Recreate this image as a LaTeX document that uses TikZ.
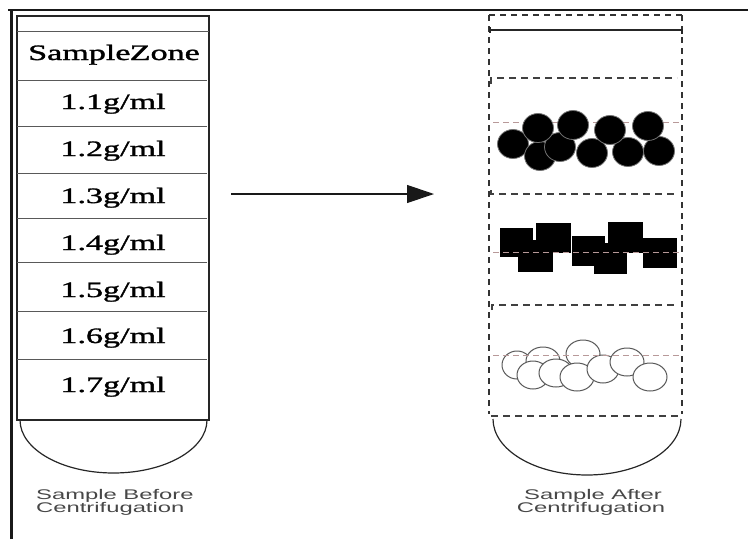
\documentclass[tikz,border=0pt]{standalone}
\usepackage{fontspec}
\usetikzlibrary{arrows.meta}
\newfontfamily\zonefont[FakeBold=1.2]{Liberation Serif}
\newfontfamily\capfont[FakeStretch=1.7]{Liberation Sans}
% zone labels are set wide, with tight letter spacing
\newcommand\zonetext[1]{\scalebox{1.55}[1]{#1}}

\begin{document}
\begin{tikzpicture}[x=1pt,y=-1pt,
  zone/.style={font=\zonefont\fontsize{22}{24}\selectfont, text=black, anchor=base, inner sep=0pt},
  caption/.style={font=\capfont\fontsize{14}{16}\selectfont, text=black!72, anchor=base, inner sep=0pt},
  frameline/.style={draw=black!90, line width=2.5pt},
  tube/.style={draw=black!85, line width=1.4pt},
  divider/.style={draw=black!65, line width=1pt},
  dashside/.style={draw=black!80, line width=2pt, dash pattern=on 6pt off 5pt},
  dashrow/.style={draw=black!75, line width=1.3pt, dash pattern=on 7pt off 5pt},
  marker/.style={draw=red!30!black!40, line width=0.8pt, dash pattern=on 6pt off 4pt},
  dense/.style={fill=black, draw=black!55, line width=0.8pt},
  light/.style={fill=white, draw=black!65, line width=1pt},
  block/.style={fill=black},
  flow/.style={draw=black!90, line width=1.2pt, -{Triangle[length=27pt,width=18pt]}},
]
\useasboundingbox (0,0) rectangle (748,539);

% outer frame
\draw[frameline] (11.5,539) -- (11.5,10.5);
\draw[frameline, line width=2pt] (8,10) -- (748,10);

% ---------- tube before centrifugation ----------
\draw[tube] (17,16) rectangle (209,420);
\draw[divider] (17,31) -- (209,31);
\foreach \yy in {80,126,173,218,262,311,359}
  \draw[divider] (17,\yy) -- (207,\yy);
\draw[tube, line width=1.2pt] (20,420) arc[start angle=180, end angle=0, x radius=93.5, y radius=53];

\node[zone] (zone0) at (114,60)  {\zonetext{Sample\hspace{-0.5pt}Zone}};
\node[zone] (zone1) at (113,109) {\zonetext{1.1g/ml}};
\node[zone] (zone2) at (113,156) {\zonetext{1.2g/ml}};
\node[zone] (zone3) at (113,203) {\zonetext{1.3g/ml}};
\node[zone] (zone4) at (113,250) {\zonetext{1.4g/ml}};
\node[zone] (zone5) at (113,297) {\zonetext{1.5g/ml}};
\node[zone] (zone6) at (113,343) {\zonetext{1.6g/ml}};
\node[zone] (zone7) at (113,392) {\zonetext{1.7g/ml}};

\node[caption, anchor=base west] (beforeA) at (36,499) {Sample Before};
\node[caption, anchor=base west] (beforeB) at (36,512) {Centrifugation};

% ---------- arrow ----------
\coordinate (arrowstart) at (231,194);
\coordinate (arrowend) at (434,194);
\draw[flow] (arrowstart) -- (arrowend);

% ---------- tube after centrifugation ----------
\draw[dashside, line width=1.3pt] (489,15) -- (682,15);
\draw[dashside] (489,15) -- (489,414);
\draw[dashside] (682,15) -- (682,414);
\draw[draw=black!85, line width=1.2pt] (490,27) -- (490,33) (490,30) -- (682,30) -- (682,34);
\draw[dashrow] (491,84) -- (491,78) -- (677,78);
\draw[dashrow] (491,190) -- (491,194) -- (677,194);
\draw[dashrow] (492,310) -- (492,305) -- (677,305);
\draw[dashrow] (491,416) -- (680,416);
\draw[tube, line width=1.2pt] (493,419) arc[start angle=180, end angle=0, x radius=94, y radius=56];

% band at 1.2 g/ml: dark spheres
\draw[marker] (493,122) -- (680,122);
\foreach \cx/\cy in {513/144,540/156,560/147,592/153,628/152,659/151,538/128,573/125,610/130,648/126}
  \draw[dense] (\cx,\cy) ellipse[x radius=15.5, y radius=14.5];

% band at 1.4 g/ml: dark blocks
\foreach \xa/\ya/\xb/\yb in {500/228/533/257, 518/240/553/272, 536/223/571/253, 572/236/605/266,
                              594/243/627/274, 608/222/643/253, 643/238/677/268}
  \fill[block] (\xa,\ya) rectangle (\xb,\yb);
\draw[marker] (493,252) -- (680,252);

% band at 1.6 g/ml: light spheres
\foreach \cx/\cy/\rx in {517/365/15, 543/361/17, 533/375/16, 556/373/17, 583/354/17,
                          577/377/17, 603/369/16, 627/362/17, 650/377/17}
  \draw[light] (\cx,\cy) ellipse[x radius=\rx, y radius=14];
\draw[marker] (493,355) -- (680,355);

\node[caption] (afterA) at (593,499) {Sample After};
\node[caption] (afterB) at (591,512) {Centrifugation};
\end{tikzpicture}
\end{document}
